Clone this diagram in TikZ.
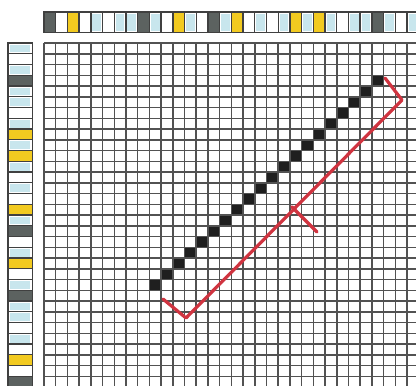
\documentclass[tikz,border=0pt]{standalone}
\usetikzlibrary{calc}
\definecolor{sD}{RGB}{92,98,96}
\definecolor{sY}{RGB}{242,202,32}
\definecolor{sB}{RGB}{200,230,237}
\definecolor{sW}{RGB}{255,255,255}
\definecolor{bracketred}{RGB}{208,52,64}
\def\insetD{0}\def\insetY{0}\def\insetB{1.5}\def\insetW{0}
\def\cw{11.71}\def\rh{10.75}
\begin{document}
\begin{tikzpicture}[x=1pt,y=-1pt,
  gridline/.style={line width=1.5pt, draw=black!68},
  stripbox/.style={line width=1.4pt, draw=black!75},
  matchcell/.style={fill=black!88},
  bracket/.style={line width=3.2pt, draw=bracketred, line join=round, line cap=round}]
\useasboundingbox (0,0) rectangle (416,386);
\clip (0,0) rectangle (416,386);
\fill[white] (0,0) rectangle (416,386);
% top sequence strip
\foreach \c [count=\i from 0] in {D,W,Y,W,B,W,B,B,D,B,W,Y,B,W,D,B,Y,W,B,W,B,Y,B,Y,B,W,B,B,D,B,W,B}{
  \pgfmathsetmacro\xa{44+\i*\cw}
  \pgfmathsetmacro\ins{\csname inset\c\endcsname}
  \fill[s\c] ({\xa+\ins},{12+\ins}) rectangle ({\xa+\cw-\ins},{32.5-\ins});
  \draw[stripbox] (\xa,12) rectangle ({\xa+\cw},32.5);
}
% left sequence strip
\foreach \c [count=\j from 0] in {B,W,B,D,B,B,W,B,Y,B,Y,B,W,B,W,Y,B,D,W,B,Y,W,B,D,B,B,W,B,W,Y,W,D}{
  \pgfmathsetmacro\ya{43+\j*\rh}
  \pgfmathsetmacro\ins{\csname inset\c\endcsname}
  \fill[s\c] ({8+1.5*\ins},{\ya+\ins}) rectangle ({32.5-1.5*\ins},{\ya+\rh-\ins});
  \draw[stripbox] (8,\ya) rectangle (32.5,{\ya+\rh});
}
% matching diagonal
\foreach \c in {10,...,29}{
  \fill[matchcell] ({44+(\c-1)*\cw},{43+(32-\c)*\rh}) rectangle +(\cw,\rh);
}
% grid
\foreach \i in {0,...,31}{
  \draw[gridline] ({44+\i*\cw},43) -- ({44+\i*\cw},392);
}
\foreach \j in {0,...,31}{
  \draw[gridline] (44,{43+\j*\rh}) -- (422,{43+\j*\rh});
}
% bracket
\coordinate (b1) at (163,299);
\coordinate (b2) at (186,318);
\coordinate (b3) at (402,100);
\coordinate (b4) at (385,78);
\coordinate (tm) at ($(b2)!0.5!(b3)$);
\coordinate (tk) at (317,232);
\draw[bracket] (b1) -- (b2) -- (b3) -- (b4);
\draw[bracket, shorten <=-3pt] (tm) -- (tk);
\end{tikzpicture}
\end{document}
